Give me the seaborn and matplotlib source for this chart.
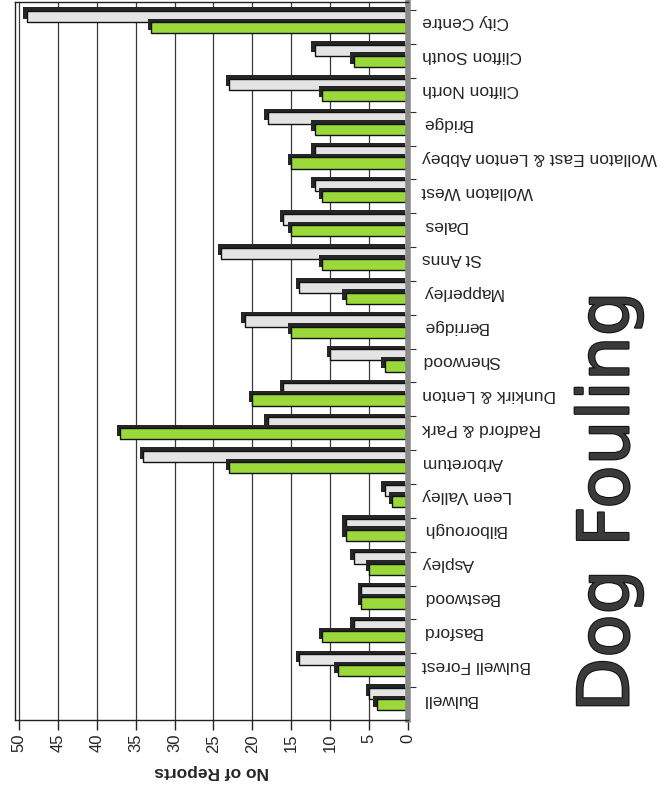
import numpy as np
import pandas as pd
import seaborn as sns
import matplotlib.pyplot as plt
import matplotlib.patheffects as pe
from matplotlib.ticker import FixedLocator

# Ward names, listed from the bottom of the chart to the top
wards = ["Bulwell", "Bulwell Forest", "Basford", "Bestwood", "Aspley", "Bilborough",
         "Leen Valley", "Arboretum", "Radford & Park", "Dunkirk & Lenton", "Sherwood",
         "Berridge", "Mapperley", "St Anns", "Dales", "Wollaton West",
         "Wollaton East & Lenton Abbey", "Bridge", "Clifton North", "Clifton South",
         "City Centre"]
green_reports = [4, 9, 11, 6, 5, 8, 2, 23, 37, 20, 3, 15, 8, 11, 15, 11, 15, 12, 11, 7, 33]
grey_reports = [5, 14, 7, 6, 7, 8, 3, 34, 18, 16, 10, 21, 14, 24, 16, 12, 12, 18, 23, 12, 49]
x_ticks = list(range(0, 55, 5))

green_name = "Period 1"
grey_name = "Period 2"
colors = {green_name: "#9bd83a", grey_name: "#e4e4e4"}

df = pd.DataFrame({
    "Ward": wards * 2,
    "Reports": green_reports + grey_reports,
    "Series": [green_name] * len(wards) + [grey_name] * len(wards),
})

sns.set_theme(style="white")
plt.rcParams["font.family"] = ["Liberation Sans", "DejaVu Sans"]

fig = plt.figure(figsize=(6.67, 7.94), dpi=100)
ax = fig.add_axes([15 / 667, 1 - 720 / 794, (408 - 15) / 667, (720 - 2) / 794])

sns.barplot(data=df, y="Ward", x="Reports", hue="Series", order=wards[::-1],
            hue_order=[grey_name, green_name], palette=colors, saturation=1,
            orient="h", width=0.66, errorbar=None, legend=False,
            edgecolor="#111111", linewidth=1, ax=ax)

# fake 3D depth: dark shadow up and to the left of each bar
for bar in ax.patches:
    bar.set_path_effects([pe.SimplePatchShadow(offset=(-2.5, 2.5), shadow_rgbFace="#262626", alpha=1),
                          pe.Normal()])

ax.set_xlim(50.5, 0)
ax.set_ylim(20.62, -0.59)
ax.set_axisbelow(True)
ax.xaxis.grid(True, color="#3a3a3a", linewidth=0.9)
ax.yaxis.grid(False)

ax.set_xticks(x_ticks)
ax.tick_params(axis="x", length=7, width=1, color="#222", bottom=True, labelsize=12,
               labelrotation=90, pad=3)

ax.yaxis.tick_right()
ax.tick_params(axis="y", which="major", length=0, pad=10, labelsize=12.5)
ax.yaxis.set_minor_locator(FixedLocator(np.arange(-0.35, len(wards), 1)))
ax.tick_params(axis="y", which="minor", right=True, left=False, length=6, width=0.8, color="#333")
for lbl in ax.get_yticklabels():
    lbl.set_rotation(180)
    lbl.set_ha("left")
    lbl.set_va("center")

ax.set_ylabel("")
ax.set_xlabel("No of Reports", rotation=180, fontweight="bold", fontsize=12.5, labelpad=8)

for side in ["left", "top", "bottom"]:
    ax.spines[side].set_color("#222")
    ax.spines[side].set_linewidth(1)
ax.spines["right"].set_color("#8a8a8a")
ax.spines["right"].set_linewidth(4)

fig.text(0.913, 0.368, "Dog Fouling", rotation=90, fontsize=51, color="#3a3a3a",
         family=["DejaVu Sans"], ha="center", va="center",
         path_effects=[pe.withStroke(linewidth=1.5, foreground="#111")])

plt.savefig("out.png", dpi=100)
